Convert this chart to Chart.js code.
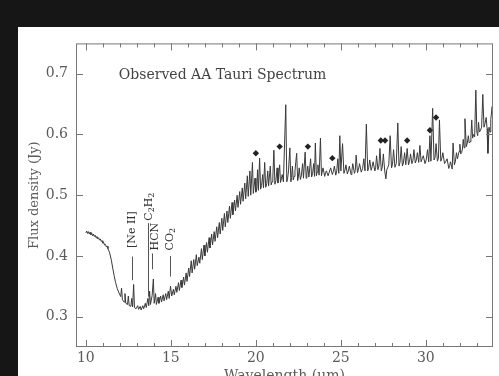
<!DOCTYPE html>
<html>
<head>
<meta charset="utf-8">
<script src="https://cdn.jsdelivr.net/npm/chart.js@4.4.1/dist/chart.umd.min.js"></script>
<style>
  html, body { margin: 0; padding: 0; background: #161616; overflow: hidden; }
  #panel { position: absolute; left: 18px; top: 27px; width: 481px; height: 349px; background: #fff; }
</style>
</head>
<body>
<div id="panel"><canvas id="chart" width="481" height="349"></canvas></div>
<script>
// Spectrum, in four pieces (wavelength in um, flux in Jy)
const wlA = [
  10.00, 10.05, 10.10, 10.15, 10.20, 10.25, 10.30, 10.35, 10.40, 10.45,
  10.50, 10.55, 10.60, 10.65, 10.70, 10.75, 10.80, 10.85, 10.90, 10.95,
  11.00, 11.05, 11.10, 11.15, 11.20, 11.25, 11.30, 11.40, 11.50, 11.58,
  11.66, 11.75, 11.85, 11.95, 12.05, 12.10, 12.15, 12.25, 12.30, 12.35,
  12.45, 12.50, 12.55, 12.65, 12.70, 12.75, 12.81, 12.86, 12.95, 13.05,
  13.10, 13.20, 13.25, 13.35, 13.40, 13.50, 13.55, 13.65, 13.70, 13.75,
  13.80, 13.90, 13.97, 14.02, 14.10, 14.15, 14.25, 14.30, 14.40, 14.45,
  14.55, 14.60, 14.70, 14.75, 14.85, 14.90, 14.98
];
const fluxA = [
  0.438, 0.441, 0.437, 0.440, 0.436, 0.439, 0.435, 0.437, 0.433, 0.436,
  0.432, 0.434, 0.430, 0.432, 0.428, 0.430, 0.426, 0.428, 0.424, 0.425,
  0.421, 0.422, 0.418, 0.419, 0.415, 0.416, 0.412, 0.405, 0.393, 0.380,
  0.368, 0.356, 0.346, 0.339, 0.333, 0.347, 0.328, 0.324, 0.338, 0.322,
  0.320, 0.334, 0.318, 0.317, 0.330, 0.316, 0.353, 0.315, 0.313, 0.318,
  0.312, 0.317, 0.311, 0.318, 0.313, 0.322, 0.315, 0.330, 0.318, 0.342,
  0.320, 0.335, 0.362, 0.322, 0.338, 0.320, 0.332, 0.322, 0.334, 0.324,
  0.336, 0.326, 0.338, 0.328, 0.342, 0.330, 0.350
];
const wlB = [
  15.05, 15.15, 15.20, 15.30, 15.35, 15.45, 15.50, 15.60, 15.65, 15.75,
  15.80, 15.90, 15.95, 16.05, 16.10, 16.20, 16.25, 16.35, 16.40, 16.50,
  16.55, 16.65, 16.70, 16.80, 16.85, 16.95, 17.00, 17.10, 17.15, 17.25,
  17.30, 17.40, 17.45, 17.55, 17.60, 17.70, 17.75, 17.85, 17.90, 18.00,
  18.05, 18.15, 18.20, 18.30, 18.35, 18.45, 18.50, 18.60, 18.65, 18.75,
  18.80, 18.90, 18.95, 19.05, 19.10, 19.20, 19.25, 19.35, 19.40, 19.50,
  19.55, 19.65, 19.70, 19.80, 19.85, 19.95
];
const fluxB = [
  0.334, 0.345, 0.336, 0.350, 0.340, 0.356, 0.343, 0.360, 0.348, 0.365,
  0.352, 0.372, 0.358, 0.380, 0.366, 0.392, 0.372, 0.394, 0.378, 0.402,
  0.384, 0.398, 0.388, 0.412, 0.394, 0.418, 0.400, 0.422, 0.406, 0.430,
  0.413, 0.436, 0.418, 0.440, 0.424, 0.448, 0.430, 0.455, 0.436, 0.462,
  0.442, 0.470, 0.448, 0.474, 0.455, 0.482, 0.462, 0.488, 0.468, 0.492,
  0.474, 0.500, 0.480, 0.506, 0.485, 0.512, 0.490, 0.520, 0.494, 0.532,
  0.498, 0.540, 0.500, 0.554, 0.503, 0.528
];
const wlC = [
  20.00, 20.06, 20.10, 20.15, 20.22, 20.28, 20.34, 20.40, 20.45, 20.52,
  20.58, 20.64, 20.70, 20.75, 20.85, 20.90, 20.95, 21.00, 21.06, 21.12,
  21.18, 21.25, 21.30, 21.40, 21.45, 21.50, 21.55, 21.62, 21.76, 21.82,
  21.87, 21.92, 22.00, 22.06, 22.10, 22.15, 22.20, 22.25, 22.30, 22.40,
  22.46, 22.50, 22.55, 22.62, 22.68, 22.75, 22.80, 22.90, 22.96, 23.00,
  23.05, 23.12, 23.22, 23.28, 23.34, 23.40, 23.45, 23.50, 23.56, 23.60,
  23.65, 23.72, 23.80, 23.86, 23.90, 23.95, 24.05, 24.10, 24.15, 24.25,
  24.32, 24.40, 24.50, 24.56, 24.62, 24.70, 24.76, 24.82, 24.88, 24.94,
  25.00, 25.10, 25.18, 25.24, 25.30, 25.38, 25.44, 25.50, 25.60, 25.65,
  25.70, 25.80, 25.85, 25.90, 25.98, 26.04, 26.10, 26.20, 26.28, 26.35,
  26.42, 26.50, 26.58, 26.64, 26.70, 26.78, 26.84, 26.90, 27.00
];
const fluxC = [
  0.505, 0.512, 0.542, 0.508, 0.561, 0.510, 0.516, 0.534, 0.512, 0.554,
  0.513, 0.519, 0.540, 0.515, 0.548, 0.517, 0.522, 0.530, 0.574, 0.518,
  0.524, 0.545, 0.520, 0.550, 0.521, 0.527, 0.534, 0.522, 0.649, 0.522,
  0.528, 0.540, 0.578, 0.522, 0.529, 0.548, 0.525, 0.531, 0.540, 0.569,
  0.524, 0.530, 0.545, 0.526, 0.533, 0.552, 0.528, 0.571, 0.528, 0.535,
  0.548, 0.530, 0.560, 0.530, 0.536, 0.552, 0.531, 0.586, 0.532, 0.538,
  0.550, 0.533, 0.594, 0.532, 0.538, 0.545, 0.531, 0.537, 0.540, 0.532,
  0.538, 0.545, 0.534, 0.539, 0.548, 0.533, 0.540, 0.560, 0.536, 0.598,
  0.540, 0.585, 0.536, 0.541, 0.550, 0.535, 0.540, 0.548, 0.534, 0.540,
  0.552, 0.536, 0.541, 0.566, 0.537, 0.543, 0.552, 0.538, 0.544, 0.560,
  0.540, 0.617, 0.540, 0.546, 0.558, 0.541, 0.547, 0.555, 0.540
];
const wlD = [
  27.05, 27.10, 27.18, 27.24, 27.30, 27.38, 27.44, 27.50, 27.58, 27.65,
  27.70, 27.75, 27.82, 27.90, 27.98, 28.04, 28.10, 28.18, 28.26, 28.35,
  28.42, 28.48, 28.55, 28.62, 28.68, 28.75, 28.82, 28.90, 28.98, 29.04,
  29.10, 29.18, 29.24, 29.30, 29.38, 29.44, 29.50, 29.58, 29.65, 29.72,
  29.78, 29.85, 29.95, 30.02, 30.10, 30.17, 30.24, 30.30, 30.40, 30.48,
  30.54, 30.60, 30.68, 30.74, 30.80, 30.88, 30.94, 31.00, 31.10, 31.18,
  31.25, 31.35, 31.40, 31.45, 31.55, 31.60, 31.68, 31.74, 31.80, 31.86,
  31.90, 31.95, 32.00, 32.05, 32.10, 32.15, 32.20, 32.25, 32.30, 32.38,
  32.44, 32.50, 32.55, 32.60, 32.65, 32.70, 32.75, 32.80, 32.87, 32.94,
  33.00, 33.05, 33.10, 33.15, 33.20, 33.28, 33.35, 33.42, 33.48, 33.55,
  33.60, 33.65, 33.72, 33.78, 33.82, 33.90, 33.96
];
const fluxD = [
  0.546, 0.565, 0.542, 0.548, 0.577, 0.540, 0.547, 0.568, 0.540, 0.527,
  0.542, 0.545, 0.550, 0.598, 0.545, 0.551, 0.575, 0.546, 0.552, 0.619,
  0.548, 0.554, 0.580, 0.548, 0.553, 0.570, 0.550, 0.577, 0.550, 0.556,
  0.568, 0.552, 0.557, 0.575, 0.553, 0.558, 0.570, 0.554, 0.582, 0.555,
  0.560, 0.565, 0.552, 0.558, 0.575, 0.555, 0.598, 0.556, 0.643, 0.558,
  0.562, 0.585, 0.556, 0.561, 0.624, 0.556, 0.561, 0.570, 0.552, 0.556,
  0.560, 0.544, 0.549, 0.555, 0.543, 0.586, 0.550, 0.556, 0.570, 0.560,
  0.565, 0.572, 0.584, 0.568, 0.570, 0.576, 0.592, 0.578, 0.626, 0.580,
  0.586, 0.598, 0.586, 0.588, 0.596, 0.624, 0.594, 0.600, 0.596, 0.673,
  0.604, 0.598, 0.620, 0.604, 0.606, 0.612, 0.666, 0.612, 0.618, 0.628,
  0.610, 0.569, 0.612, 0.604, 0.625, 0.646, 0.612
];

// Diamond markers
const markWavelength = [20.0, 21.4, 23.06, 24.5, 27.35, 27.6, 28.9, 30.24, 30.6];
const markFlux = [0.569, 0.580, 0.580, 0.561, 0.590, 0.590, 0.590, 0.607, 0.628];

// Line identifications
const lineNames = ["[Ne II]", "C2H2", "HCN", "CO2"];
const lineWavelength = [12.71, 13.66, 13.92, 14.93];
const lineLow = [0.360, 0.333, 0.378, 0.366];
const lineHigh = [0.399, 0.454, 0.404, 0.400];
const labelWavelength = [12.72, 13.72, 14.07, 14.95];
const labelBase = [0.413, 0.458, 0.409, 0.409];

const xTicks = [10, 15, 20, 25, 30];
const xMinor = [10, 11, 12, 13, 14, 15, 16, 17, 18, 19, 20, 21, 22, 23, 24, 25, 26, 27, 28, 29, 30, 31, 32, 33];
const yTicks = [0.3, 0.4, 0.5, 0.6, 0.7];

const SERIF = "'DejaVu Serif', serif";
const INK = "#5a5a5a";

const wavelength = [...wlA, ...wlB, ...wlC, ...wlD];
const flux = [...fluxA, ...fluxB, ...fluxC, ...fluxD];
const spectrum = wavelength.map((w, i) => ({ x: w, y: flux[i] }));
const marks = markWavelength.map((w, i) => ({ x: w, y: markFlux[i] }));

// draw a label, digits set as subscripts
function drawChem(ctx, text, size) {
  let x = 0;
  for (const ch of text) {
    const sub = /[0-9]/.test(ch);
    ctx.font = `${sub ? size * 0.72 : size}px ${SERIF}`;
    ctx.fillText(ch, x, sub ? size * 0.28 : 0);
    x += ctx.measureText(ch).width;
  }
}

const framePlugin = {
  id: "frame",
  afterDatasetsDraw(chart) {
    const { ctx, chartArea: a, scales: { x, y } } = chart;
    ctx.save();
    ctx.strokeStyle = "#777";
    ctx.lineWidth = 1;
    ctx.strokeRect(a.left + 0.5, a.top + 0.5, a.right - a.left - 1, a.bottom - a.top - 1);
    ctx.beginPath();
    xMinor.forEach(v => {
      const px = Math.round(x.getPixelForValue(v)) + 0.5;
      const len = xTicks.includes(v) ? 7 : 4;
      ctx.moveTo(px, a.bottom); ctx.lineTo(px, a.bottom - len);
      ctx.moveTo(px, a.top); ctx.lineTo(px, a.top + len);
    });
    yTicks.forEach(v => {
      const py = Math.round(y.getPixelForValue(v)) + 0.5;
      ctx.moveTo(a.left, py); ctx.lineTo(a.left + 7, py);
      ctx.moveTo(a.right, py); ctx.lineTo(a.right - 7, py);
    });
    ctx.stroke();

    // plot title inside the frame
    ctx.fillStyle = "#444";
    ctx.font = `14px ${SERIF}`;
    ctx.textBaseline = "middle";
    ctx.textAlign = "left";
    ctx.fillText("Observed AA Tauri Spectrum", x.getPixelForValue(11.94), y.getPixelForValue(0.698));

    // line identifications
    ctx.strokeStyle = "#555";
    ctx.beginPath();
    lineNames.forEach((n, i) => {
      const px = Math.round(x.getPixelForValue(lineWavelength[i])) + 0.5;
      ctx.moveTo(px, y.getPixelForValue(lineLow[i]));
      ctx.lineTo(px, y.getPixelForValue(lineHigh[i]));
    });
    ctx.stroke();
    ctx.fillStyle = "#333";
    lineNames.forEach((n, i) => {
      ctx.save();
      ctx.translate(x.getPixelForValue(labelWavelength[i]), y.getPixelForValue(labelBase[i]));
      ctx.rotate(-Math.PI / 2);
      drawChem(ctx, n, 11);
      ctx.restore();
    });
    ctx.restore();
  }
};

const ctx = document.getElementById("chart").getContext("2d");
new Chart(ctx, {
  type: "line",
  data: {
    datasets: [
      { label: "AA Tau", data: spectrum, borderColor: "#3a3a3a", borderWidth: 1, pointRadius: 0, tension: 0, fill: false },
      { type: "scatter", label: "marks", data: marks, pointStyle: "rectRot", pointRadius: 3.2,
        backgroundColor: "#222", borderColor: "#222", borderWidth: 0 }
    ]
  },
  options: {
    responsive: false,
    animation: false,
    devicePixelRatio: 1,
    layout: { padding: { left: 0, top: 8, right: 6, bottom: 0 } },
    plugins: { legend: { display: false }, tooltip: { enabled: false } },
    scales: {
      x: {
        type: "linear", min: 9.42, max: 33.95,
        grid: { display: false, drawTicks: false },
        border: { display: false },
        afterBuildTicks: s => { s.ticks = xTicks.map(v => ({ value: v })); },
        afterFit: s => { s.height = 29; },
        ticks: { color: INK, font: { family: SERIF, size: 14 }, padding: 3, maxRotation: 0 },
        title: { display: true, text: "Wavelength (μm)", color: INK, font: { family: SERIF, size: 14 },
                 padding: { top: 0, bottom: -9 } }
      },
      y: {
        min: 0.25, max: 0.75,
        grid: { display: false, drawTicks: false },
        border: { display: false },
        afterBuildTicks: s => { s.ticks = yTicks.map(v => ({ value: v })); },
        afterFit: s => { s.width = 58; },
        ticks: { color: INK, font: { family: SERIF, size: 14 }, padding: 8, callback: v => v.toFixed(1) },
        title: { display: true, text: "Flux density (Jy)", color: INK, font: { family: SERIF, size: 13 },
                 padding: { top: 9, bottom: 0 } }
      }
    }
  },
  plugins: [framePlugin]
});
</script>
</body>
</html>
